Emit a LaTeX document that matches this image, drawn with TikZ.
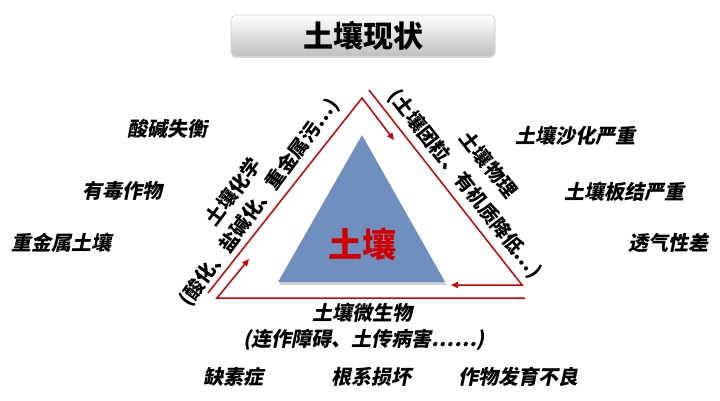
\documentclass[tikz,border=0pt]{standalone}
\usepackage{fontspec}
\newfontfamily\cjk{Noto Sans CJK SC}
\newfontfamily\cjksl{Noto Sans CJK SC}[FakeSlant=0.2]
\usetikzlibrary{arrows.meta,shadows}
\definecolor{redline}{RGB}{208,0,0}
\definecolor{tri}{RGB}{111,144,191}
\begin{document}
\begin{tikzpicture}[x=1pt,y=-1pt,
  lab/.style={font=\cjksl\bfseries\fontsize{20}{24}\selectfont, text=black, inner sep=0pt},
  rotlab/.style={font=\cjk\bfseries\fontsize{19.5}{24}\selectfont, text=black, inner sep=0pt},
  arr/.style={draw=redline, line width=1.5pt, line join=miter, -{Triangle[length=7pt,width=6pt]}},
  titlebox/.style={rounded corners=5pt, minimum width=264pt, minimum height=41pt,
    top color=white, bottom color=black!25, draw=black!20, line width=0.6pt,
    drop shadow={shadow xshift=0pt, shadow yshift=-2pt, fill=black!30},
    font=\cjk\bfseries\fontsize{30}{34}\selectfont}]
\useasboundingbox (0,0) rectangle (720,401);
\fill[white] (0,0) rectangle (720,401);

% title
\node[titlebox] (title) at (363,35.5) {土壤现状};

% blue triangle with faint shadow
\fill[black!18] (279,285) -- (447,285) -- (363,138) -- cycle;
\fill[tri] (278,282) -- (445,282) -- (362,135) -- cycle;
\node[font=\cjk\bfseries\fontsize{34}{38}\selectfont, text=redline, inner sep=0pt] (soil) at (362,244) {土壤};

% three bent arrows
\coordinate (a0) at (208,293);
\coordinate (a1) at (362,98);
\coordinate (a2) at (394,140);
\coordinate (b0) at (369,90);
\coordinate (b1) at (522,285);
\coordinate (b2) at (451,285);
\coordinate (c0) at (525,298);
\coordinate (c1) at (217,298);
\coordinate (c2) at (249,259);
\draw[arr] (a0) -- (a1) -- (a2);
\draw[arr] (b0) -- (b1) -- (b2);
\draw[arr] (c0) -- (c1) -- (c2);

% rotated side labels
\node[rotlab, rotate=53.5] (chem1) at (233,191.5) {土壤化学};
\node[rotlab, rotate=53.5] (chem2) at (259.5,202.5) {(酸化、盐碱化、重金属污…)};
\node[rotlab, rotate=-51.7] (phys1) at (489,164.5) {土壤物理};
\node[rotlab, rotate=-51.7] (phys2) at (465,184) {(土壤团粒、有机质降低…)};

% bottom label
\node[lab] (bio1) at (362,313) {土壤微生物};
\node[lab] (bio2) at (364,340) {(连作障碍、土传病害……)};

% outer labels
\node[lab] (l1) at (167,129) {酸碱失衡};
\node[lab] (l2) at (122,191) {有毒作物};
\node[lab] (l3) at (62,243) {重金属土壤};
\node[lab] (r1) at (575,136) {土壤沙化严重};
\node[lab] (r2) at (624,192) {土壤板结严重};
\node[lab] (r3) at (668,243) {透气性差};
\node[lab] (d1) at (233,377) {缺素症};
\node[lab] (d2) at (371,377) {根系损坏};
\node[lab] (d3) at (518,377) {作物发育不良};
\end{tikzpicture}
\end{document}
